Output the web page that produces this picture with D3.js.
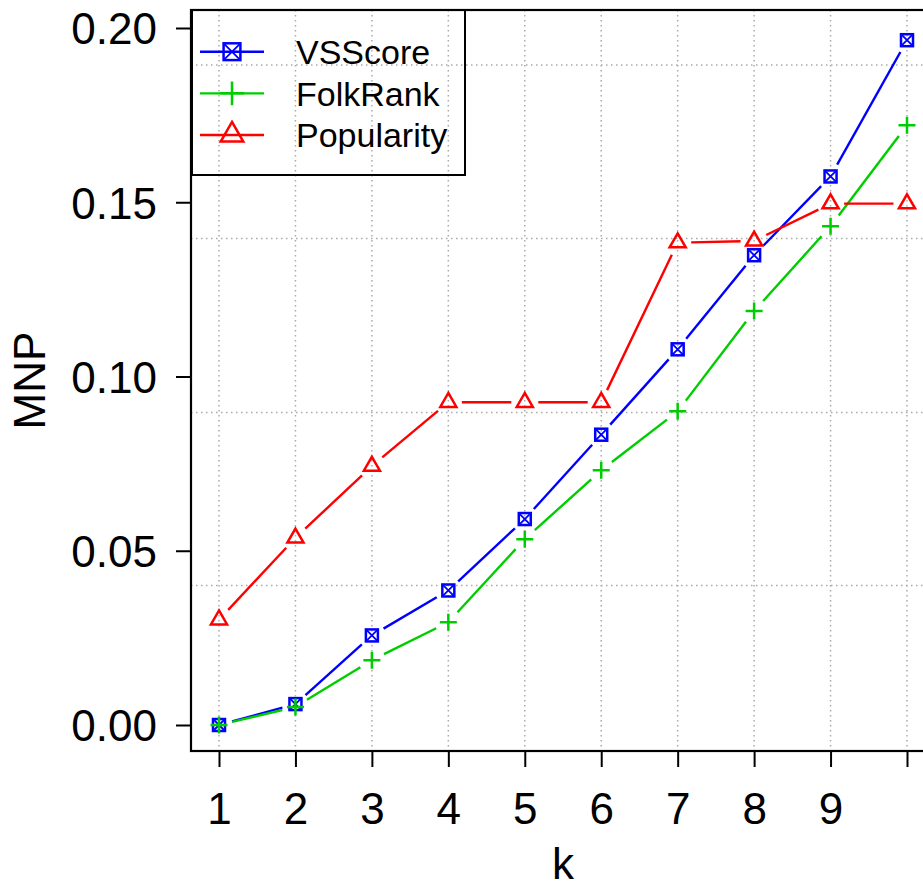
<!DOCTYPE html>
<html>
<head>
  <meta charset='utf-8'>
  <title>MNP vs k</title>
  <script src="https://cdnjs.cloudflare.com/ajax/libs/d3/7.8.5/d3.min.js"></script>
  <style>
    html, body { margin: 0; padding: 0; background: #fff; }
    svg { display: block; font-family: "Liberation Sans", Arial, sans-serif; }
  </style>
</head>
<body>
<div id="chart"></div>
<script>
var kValues = [1, 2, 3, 4, 5, 6, 7, 8, 9, 10];
var kLabels = ['1', '2', '3', '4', '5', '6', '7', '8', '9', ''];
var vsscore = [0.0000, 0.0060, 0.0257, 0.0386, 0.0591, 0.0833, 0.1078, 0.1348, 0.1574, 0.1965];
var folkrank = [0.0000, 0.0052, 0.0186, 0.0295, 0.0533, 0.0731, 0.0900, 0.1188, 0.1431, 0.1721];
var popularity = [0.0302, 0.0537, 0.0743, 0.0926, 0.0926, 0.0926, 0.1384, 0.1389, 0.1496, 0.1496];
var yTicks = [0.00, 0.05, 0.10, 0.15, 0.20];
var yGrid = [0.0400, 0.0897, 0.1396, 0.1894];

var series = [
  { name: 'VSScore', values: vsscore, color: '#0000ff', shape: 'boxx' },
  { name: 'FolkRank', values: folkrank, color: '#00cd00', shape: 'plus' },
  { name: 'Popularity', values: popularity, color: '#ff0000', shape: 'tri' }
];

var width = 923, height = 884;
var box = { left: 191, top: 10, right: 935, bottom: 751 };

var x = d3.scaleLinear().domain([1, 10]).range([219, 907]);
var y = d3.scaleLinear().domain([0, 0.2]).range([725, 28]);

var svg = d3.select('#chart').append('svg')
  .attr('width', width)
  .attr('height', height);

// dotted grid
var grid = svg.append('g')
  .attr('stroke', '#aaaaaa')
  .attr('stroke-width', 1.5)
  .attr('stroke-dasharray', '1.5,3.5');

grid.selectAll('.vgrid')
  .data(kValues)
  .enter().append('line')
  .attr('x1', d => x(d)).attr('x2', d => x(d))
  .attr('y1', box.top).attr('y2', box.bottom);

grid.selectAll('.hgrid')
  .data(yGrid)
  .enter().append('line')
  .attr('x1', box.left).attr('x2', box.right)
  .attr('y1', d => y(d)).attr('y2', d => y(d));

// draw a marker at 0,0 with scale s
function marker(g, shape, color, s) {
  if (shape === 'boxx') {
    var h = 6 * s;
    g.append('rect')
      .attr('x', -h).attr('y', -h).attr('width', 2 * h).attr('height', 2 * h)
      .attr('fill', 'none').attr('stroke', color).attr('stroke-width', 2.5);
    g.append('path')
      .attr('d', 'M' + (-h) + ',' + (-h) + 'L' + h + ',' + h + 'M' + h + ',' + (-h) + 'L' + (-h) + ',' + h)
      .attr('stroke', color).attr('stroke-width', 1.8);
  } else if (shape === 'plus') {
    var a = 8.5 * s;
    g.append('path')
      .attr('d', 'M' + (-a) + ',0L' + a + ',0M0,' + (-a) + 'L0,' + a)
      .attr('stroke', color).attr('stroke-width', 2.5);
  } else {
    var r = 9.3 * s;
    var hw = r * Math.sqrt(3) / 2;
    g.append('path')
      .attr('d', 'M0,' + (-r) + 'L' + hw + ',' + (r / 2) + 'L' + (-hw) + ',' + (r / 2) + 'Z')
      .attr('fill', 'none').attr('stroke', color).attr('stroke-width', 2.5);
  }
}

var gap = 13.5;

series.forEach(function (s) {
  var pts = s.values.map((v, i) => [x(kValues[i]), y(v)]);
  var g = svg.append('g');

  // line segments with gaps around the points (type = "b")
  for (var i = 0; i < pts.length - 1; i++) {
    var p0 = pts[i], p1 = pts[i + 1];
    var dx = p1[0] - p0[0], dy = p1[1] - p0[1];
    var len = Math.sqrt(dx * dx + dy * dy);
    if (len <= 2 * gap) continue;
    var ux = dx / len, uy = dy / len;
    g.append('line')
      .attr('x1', p0[0] + ux * gap).attr('y1', p0[1] + uy * gap)
      .attr('x2', p1[0] - ux * gap).attr('y2', p1[1] - uy * gap)
      .attr('stroke', s.color).attr('stroke-width', 2.4);
  }

  pts.forEach(function (p) {
    var m = g.append('g').attr('transform', 'translate(' + p[0] + ',' + p[1] + ')');
    marker(m, s.shape, s.color, 1);
  });
});

// axes
var yAxis = d3.axisLeft(y)
  .tickValues(yTicks)
  .tickFormat(d3.format('.2f'))
  .tickSize(15)
  .tickSizeOuter(0)
  .tickPadding(19);

var xAxis = d3.axisBottom(x)
  .tickValues(kValues)
  .tickFormat((d, i) => kLabels[i])
  .tickSize(16)
  .tickSizeOuter(0)
  .tickPadding(26);

var gy = svg.append('g')
  .attr('transform', 'translate(' + box.left + ',0)')
  .call(yAxis);

var gx = svg.append('g')
  .attr('transform', 'translate(0,' + box.bottom + ')')
  .call(xAxis);

[gx, gy].forEach(function (g) {
  g.select('.domain').remove();
  g.selectAll('line').attr('stroke', '#000').attr('stroke-width', 2);
  g.selectAll('text')
    .attr('font-family', '"Liberation Sans", Arial, sans-serif')
    .attr('font-size', 44)
    .attr('fill', '#000');
});
gy.selectAll('text').attr('dy', '0.36em');

// plot frame
svg.append('rect')
  .attr('x', box.left).attr('y', box.top)
  .attr('width', box.right - box.left).attr('height', box.bottom - box.top)
  .attr('fill', 'none').attr('stroke', '#000').attr('stroke-width', 2.2);

// axis titles
svg.append('text')
  .attr('x', (box.left + box.right) / 2)
  .attr('y', 879)
  .attr('text-anchor', 'middle')
  .attr('font-size', 44)
  .text('k');

svg.append('text')
  .attr('transform', 'translate(45,' + ((box.top + box.bottom) / 2) + ') rotate(-90)')
  .attr('text-anchor', 'middle')
  .attr('font-size', 44)
  .text('MNP');

// legend
var legend = svg.append('g');
legend.append('rect')
  .attr('x', box.left + 1).attr('y', box.top)
  .attr('width', 273).attr('height', 165)
  .attr('fill', 'none').attr('stroke', '#000').attr('stroke-width', 2);

var rowY = d3.scalePoint().domain(series.map(s => s.name)).range([51.7, 135]);

series.forEach(function (s) {
  var row = legend.append('g').attr('transform', 'translate(0,' + rowY(s.name) + ')');
  row.append('line')
    .attr('x1', 200).attr('x2', 264)
    .attr('stroke', s.color).attr('stroke-width', 2.4);
  var m = row.append('g').attr('transform', 'translate(232,0)');
  marker(m, s.shape, s.color, 1.4);
  row.append('text')
    .attr('x', 296)
    .attr('dy', '0.36em')
    .attr('font-size', 34)
    .text(s.name);
});
</script>
</body>
</html>
